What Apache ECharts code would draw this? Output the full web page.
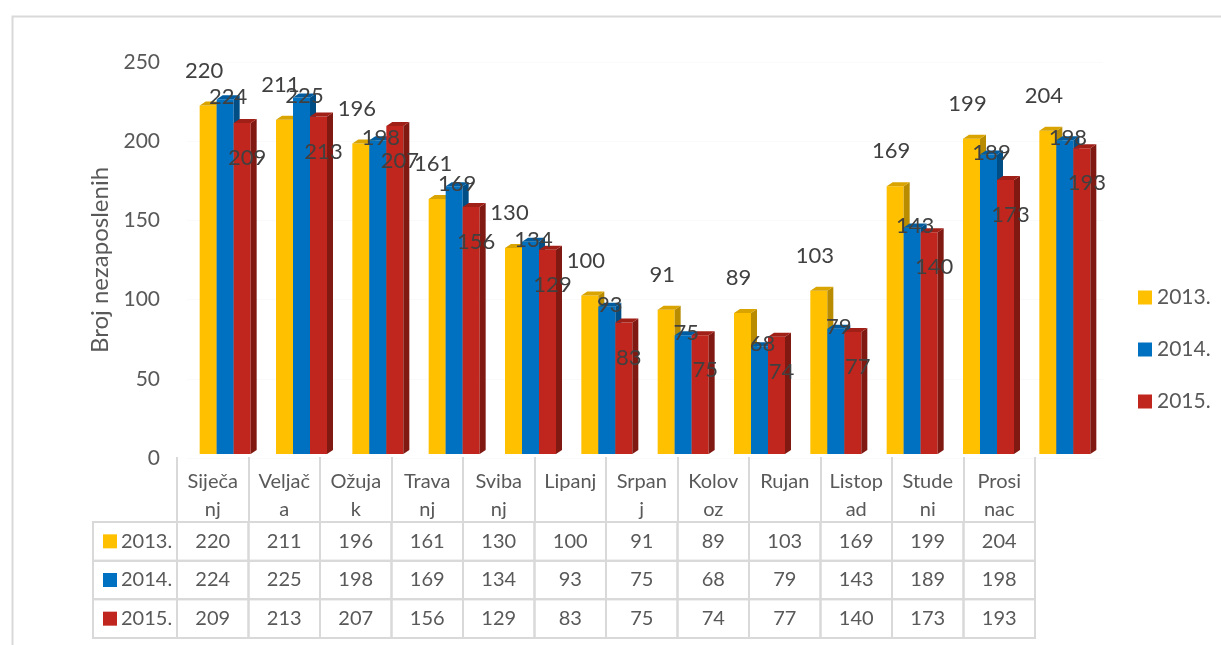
<!DOCTYPE html>
<html>
<head>
<meta charset="utf-8">
<script src="https://cdn.jsdelivr.net/npm/echarts@6/dist/echarts.min.js"></script>
<style>
  html, body { margin: 0; padding: 0; background: #fff; }
  #chart { width: 1221px; height: 645px; }
</style>
</head>
<body>
<div id="chart"></div>
<script>
// data
var months = ['Siječanj', 'Veljača', 'Ožujak', 'Travanj', 'Svibanj', 'Lipanj', 'Srpanj', 'Kolovoz', 'Rujan', 'Listopad', 'Studeni', 'Prosinac'];
var monthHeaders = ['Siječa\nnj', 'Veljač\na', 'Ožuja\nk', 'Trava\nnj', 'Sviba\nnj', 'Lipanj', 'Srpan\nj', 'Kolov\noz', 'Rujan', 'Listop\nad', 'Stude\nni', 'Prosi\nnac'];
var years = ['2013.', '2014.', '2015.'];
var v2013 = [220, 211, 196, 161, 130, 100, 91, 89, 103, 169, 199, 204];
var v2014 = [224, 225, 198, 169, 134, 93, 75, 68, 79, 143, 189, 198];
var v2015 = [209, 213, 207, 156, 129, 83, 75, 74, 77, 140, 173, 193];
var yTicks = [0, 50, 100, 150, 200, 250];

var values = [v2013, v2014, v2015];
var colors = ['#FFC000', '#0070C0', '#C0261D'];
var sideColors = ['#B98C00', '#004E86', '#801912'];
var topColors = ['#D9A300', '#005C9F', '#A01F17'];
var font = 'Lato, "Open Sans", sans-serif';
var textColor = '#595959';

var myChart = echarts.init(document.getElementById('chart'));

function bar3d(k) {
	return {
		name: years[k],
		type: 'custom',
		xAxisIndex: 0,
		yAxisIndex: 0,
		itemStyle: { color: colors[k] },
		data: values[k].map(function (v, i) { return [i, v]; }),
		renderItem: function (params, api) {
			var base = api.coord([api.value(0), 0]);
			var tip = api.coord([api.value(0), api.value(1)]);
			var bw = 17, dx = 6, dy = 4, lift = 4;
			var x0 = base[0] - bw * 1.5 + k * bw;
			var x1 = x0 + bw;
			var yb = base[1] - lift;
			var yt = tip[1] - lift;
			var cx = (x0 + x1) / 2;
			var labelPos = [
				[cx - 4, yt - 35],
				[cx + 3, yt - 2],
				[cx + 5, yt + 35]
			][k];
			return {
				type: 'group',
				children: [
					{ type: 'rect', shape: { x: x0, y: yt, width: bw, height: yb - yt }, style: { fill: colors[k] } },
					{ type: 'polygon', shape: { points: [[x1, yt], [x1 + dx, yt - dy], [x1 + dx, yb - dy], [x1, yb]] }, style: { fill: sideColors[k] } },
					{ type: 'polygon', shape: { points: [[x0, yt], [x0 + dx, yt - dy], [x1 + dx, yt - dy], [x1, yt]] }, style: { fill: topColors[k] } },
					{
						type: 'text', z2: 100,
						style: {
							x: labelPos[0], y: labelPos[1], text: String(api.value(1)),
							fill: '#404040', font: '22px ' + font, align: 'center', verticalAlign: 'middle'
						}
					}
				]
			};
		}
	};
}

var tableData = [];
for (var r = 0; r < 3; r++) {
	for (var c = 0; c < months.length; c++) {
		tableData.push([c, r, values[r][c]]);
	}
}

var option = {
	animation: false,
	graphic: [{
		type: 'rect', left: 10, top: 14,
		shape: { width: 1240, height: 700 },
		style: { fill: 'none', stroke: '#d9d9d9', lineWidth: 2 }
	}],
	legend: {
		data: years,
		orient: 'vertical',
		left: 1133,
		top: 282,
		itemWidth: 14,
		itemHeight: 14,
		itemGap: 31,
		icon: 'rect',
		textStyle: { fontFamily: font, fontSize: 21, color: textColor }
	},
	grid: [
		{ left: 187, top: 62, width: 916, height: 396 },
		{ left: 177, top: 522, width: 858, height: 116 }
	],
	xAxis: [{
		gridIndex: 0,
		type: 'category',
		data: months,
		show: false
	}, {
		gridIndex: 1,
		type: 'category',
		data: monthHeaders,
		position: 'top',
		axisLine: { show: false },
		axisTick: { show: true, interval: 0, length: 65, lineStyle: { color: '#d9d9d9', width: 2 } },
		axisLabel: {
			interval: 0, verticalAlign: 'top', margin: 54, lineHeight: 28,
			fontFamily: font, fontSize: 20, color: textColor
		},
		splitLine: { show: false }
	}],
	yAxis: [{
		gridIndex: 0,
		type: 'value',
		min: yTicks[0],
		max: yTicks[yTicks.length - 1],
		interval: 50,
		name: 'Broj nezaposlenih',
		nameLocation: 'middle',
		nameGap: 70,
		nameTextStyle: { fontFamily: font, fontSize: 24, color: textColor },
		axisLine: { show: false },
		axisTick: { show: false },
		axisLabel: { margin: 27, fontFamily: font, fontSize: 21, color: textColor },
		splitLine: { lineStyle: { color: '#fafafa' } }
	}, {
		gridIndex: 1,
		type: 'category',
		data: years,
		inverse: true,
		show: false
	}],
	series: [bar3d(0), bar3d(1), bar3d(2), {
		name: 'table',
		type: 'custom',
		xAxisIndex: 1,
		yAxisIndex: 1,
		silent: true,
		data: tableData,
		renderItem: function (params, api) {
			var p = api.coord([api.value(0), api.value(1)]);
			var s = api.size([1, 1]);
			var row = api.value(1);
			var children = [
				{ type: 'rect', shape: { x: p[0] - s[0] / 2, y: p[1] - s[1] / 2, width: s[0], height: s[1] }, style: { fill: 'none', stroke: '#d9d9d9', lineWidth: 2 } },
				{ type: 'text', style: { x: p[0], y: p[1], text: String(api.value(2)), fill: textColor, font: '20px ' + font, align: 'center', verticalAlign: 'middle' } }
			];
			if (api.value(0) === 0) {
				var left = p[0] - s[0] / 2 - 84;
				children.push(
					{ type: 'rect', shape: { x: left, y: p[1] - s[1] / 2, width: 84, height: s[1] }, style: { fill: 'none', stroke: '#d9d9d9', lineWidth: 2 } },
					{ type: 'rect', shape: { x: left + 10, y: p[1] - 7, width: 14, height: 14 }, style: { fill: colors[row] } },
					{ type: 'text', style: { x: left + 28, y: p[1], text: years[row], fill: textColor, font: '20px ' + font, align: 'left', verticalAlign: 'middle' } }
				);
			}
			return { type: 'group', children: children };
		}
	}]
};
myChart.setOption(option);
</script>
</body>
</html>
